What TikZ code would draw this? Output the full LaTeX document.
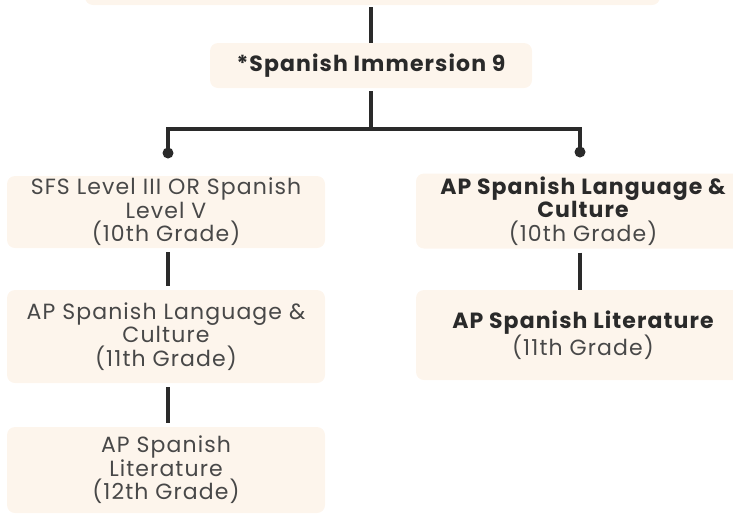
\documentclass[tikz,border=0pt]{standalone}
\usepackage{fontspec}
\setmainfont[LetterSpace=5]{Poppins}
\usepackage{xcolor}
\usepackage{tikz}
\usetikzlibrary{positioning}
\definecolor{cream}{RGB}{253,245,236}
\definecolor{inkdark}{RGB}{42,42,42}
\definecolor{inkgrey}{RGB}{72,72,72}
\newcommand{\coursefont}{\fontsize{22}{23.5}\selectfont}

\begin{document}
\begin{tikzpicture}[x=1pt, y=-1pt,
    box/.style={fill=cream, draw=none, rounded corners=8pt, align=center, inner sep=0pt, text=inkgrey, font=\coursefont},
    link/.style={draw=inkdark, line width=3.4pt},
    dot/.style={circle, fill=inkdark, inner sep=0pt, minimum size=11pt}]
    \useasboundingbox (0,0) rectangle (733,515);
    \clip (0,0) rectangle (733,515);

    \node[box, minimum width=575, minimum height=40] (top) at (372.5,-15) {};
    \node[box, minimum width=322, minimum height=45, text=inkdark] (imm) at (371,65.5) {\bfseries *Spanish Immersion 9};

    \node[box, minimum width=318, minimum height=72] (sfs) at (166,212) {SFS Level III OR Spanish\\Level V\\(10th Grade)};
    \node[box, minimum width=318, minimum height=93] (lang11) at (166,336.5) {AP Spanish Language \&\\Culture\\(11th Grade)};
    \node[box, minimum width=318, minimum height=86] (lit12) at (166,470) {AP Spanish\\Literature\\(12th Grade)};

    \node[box, minimum width=334, minimum height=75] (lang10) at (583,211) {\textcolor{inkdark}{\bfseries AP Spanish Language \&}\\\textcolor{inkdark}{\bfseries Culture}\\(10th Grade)};
    \node[box, minimum width=334, minimum height=90] (lit11) at (583,335) {\textcolor{inkdark}{\bfseries AP Spanish Literature}\\(11th Grade)};

    \coordinate (split) at (371,129);
    \node[dot] (dotL) at (168,153) {};
    \node[dot] (dotR) at (580,152) {};

    \draw[link, shorten <=2pt] (top.south -| imm.north) -- (imm.north);
    \draw[link, shorten <=3pt] (imm.south) -- (split);
    \draw[link] (dotL.center) -- (dotL.center |- split) -- (dotR.center |- split) -- (dotR.center);

    \draw[link, shorten <=4pt, shorten >=4pt] (sfs.south -| dotL) -- (lang11.north -| dotL);
    \draw[link, shorten <=4pt, shorten >=4pt] (lang11.south -| dotL) -- (lit12.north -| dotL);
    \draw[link, shorten <=4pt] (lang10.south -| dotR) -- (lit11.north -| dotR);
\end{tikzpicture}
\end{document}
